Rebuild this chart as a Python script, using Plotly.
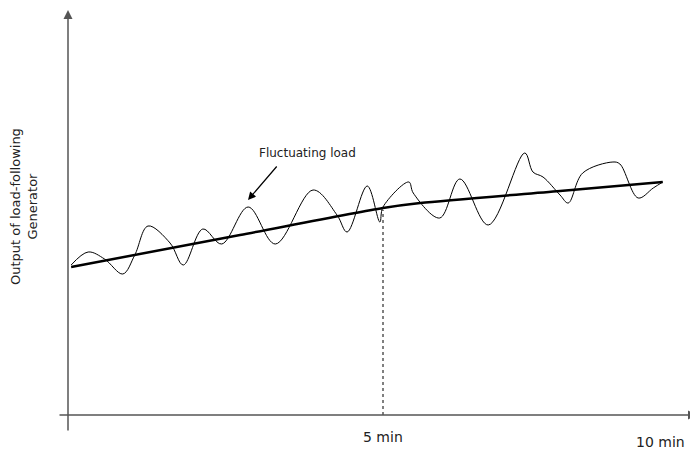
import plotly.graph_objects as go

# time in minutes, output in arbitrary units
load_t = [0.05, 0.32, 0.58, 0.87, 1.06, 1.27, 1.62, 1.83, 2.14, 2.44, 2.86, 3.29,
          3.89, 4.27, 4.43, 4.75, 4.95, 5.0, 5.41, 5.48, 5.90, 6.22, 6.67, 7.25,
          7.38, 7.54, 7.81, 7.94, 8.17, 8.65, 8.76, 9.05, 9.29, 9.44]
load_u = [37.5, 40.75, 39.0, 35.25, 40.0, 47.25, 43.0, 37.5, 46.5, 42.75, 52.0, 42.75,
          56.25, 50.0, 45.75, 57.25, 48.25, 52.0, 58.25, 55.5, 49.25, 59.0, 47.5, 65.5,
          60.75, 59.5, 55.0, 53.0, 60.5, 63.25, 62.75, 54.25, 56.75, 58.25]

trend_t = [0.05, 2.73, 5.0, 5.59, 7.81, 9.44]
trend_u = [37.0, 45.0, 51.75, 53.0, 56.0, 58.25]

mark_t = 5.0
x_labels = ["5 min", "10 min"]
y_title = "Output of load-following<br>Generator"
series_label = "Fluctuating load"

OFF = 8                      # page margin of the browser
W, H = 698 - OFF, 453 - OFF
PXM = 63.0   # px per minute
PXU = 4.0    # px per unit
X0, Y0 = 68, 415             # page pixel of origin

def tx(px):
    return (px - X0) / PXM

def ty(py):
    return (Y0 - py) / PXU

fig = go.Figure()
fig.add_trace(go.Scatter(x=load_t, y=load_u, mode="lines",
                         line=dict(color="black", width=1, shape="spline", smoothing=1.0),
                         hoverinfo="skip"))
fig.add_trace(go.Scatter(x=trend_t, y=trend_u, mode="lines",
                         line=dict(color="black", width=2.5, shape="spline", smoothing=0.8),
                         hoverinfo="skip"))

axis_col = "#555555"
# axes lines with arrows
fig.add_annotation(x=tx(697), y=0, ax=tx(58), ay=0, xref="x", yref="y", axref="x", ayref="y",
                   showarrow=True, arrowhead=2, arrowsize=1.2, arrowwidth=1.5, arrowcolor=axis_col, text="")
fig.add_annotation(x=0, y=ty(10), ax=0, ay=ty(432), xref="x", yref="y", axref="x", ayref="y",
                   showarrow=True, arrowhead=2, arrowsize=1.2, arrowwidth=1.5, arrowcolor=axis_col, text="")

# dashed marker at 5 min
fig.add_shape(type="line", x0=mark_t, x1=mark_t, y0=0, y1=ty(210), xref="x", yref="y",
              line=dict(color="black", width=1, dash="dot"))

# fluctuating load label and arrow
fig.add_annotation(x=tx(248), y=ty(200), ax=tx(278), ay=ty(165), xref="x", yref="y",
                   axref="x", ayref="y", showarrow=True, arrowhead=2, arrowsize=1.3,
                   arrowwidth=1.2, arrowcolor="black", text="")
fig.add_annotation(x=tx(307), y=ty(153), xref="x", yref="y", text=series_label, showarrow=False,
                   font=dict(size=12, color="#222222"))

fig.add_annotation(x=mark_t, y=ty(437), xref="x", yref="y", text=x_labels[0], showarrow=False,
                   font=dict(size=14, color="#222222"))
fig.add_annotation(x=tx(687), y=ty(442), xref="x", yref="y", text=x_labels[1], showarrow=False,
                   xanchor="right", font=dict(size=14, color="#222222"))
fig.add_annotation(x=tx(24), y=ty(207), xref="x", yref="y", text=y_title, showarrow=False,
                   textangle=-90, font=dict(size=13, color="#222222"))

fig.update_layout(
    width=W, height=H, margin=dict(l=0, r=0, t=0, b=0),
    paper_bgcolor="white", plot_bgcolor="white", showlegend=False,
    font=dict(family="DejaVu Sans"),
    xaxis=dict(range=[tx(OFF), tx(OFF + W)], visible=False, fixedrange=True),
    yaxis=dict(range=[ty(OFF + H), ty(OFF)], visible=False, fixedrange=True),
)
fig.write_html("out.html")
